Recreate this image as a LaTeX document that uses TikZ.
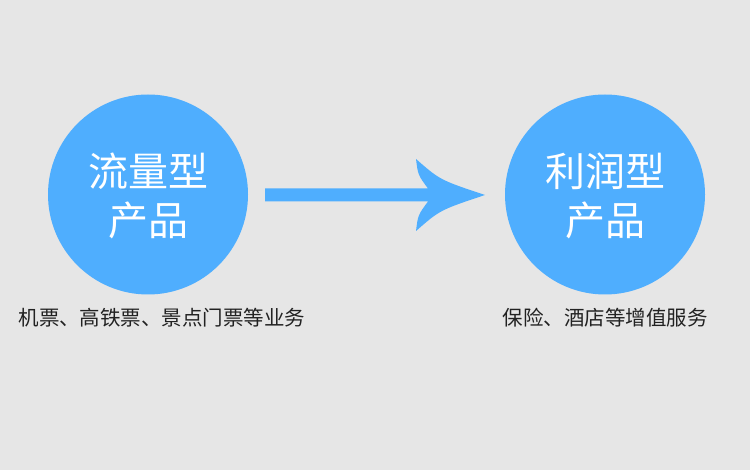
\documentclass[tikz,border=0pt]{standalone}
\usepackage{fontspec}
\newfontfamily\cjk{Noto Sans CJK SC}
\definecolor{bg}{HTML}{E6E6E6}
\definecolor{blu}{HTML}{4FAEFE}
\definecolor{cap}{HTML}{222222}
\begin{document}
\begin{tikzpicture}[x=1pt,y=-1pt,
  disc/.style={circle,fill=blu,draw=none,minimum size=200pt,inner sep=0pt},
  title/.style={anchor=base,text=white,font=\cjk\fontsize{40}{40}\selectfont,inner sep=0pt},
  caption/.style={text=cap,font=\cjk\fontsize{20.5}{20.5}\selectfont,inner sep=0pt}]
\fill[bg] (0,0) rectangle (750,470);
\useasboundingbox (0,0) rectangle (750,470);
\node[disc] (lc) at (148,194.5) {};
\node[disc] (rc) at (605,194.5) {};
\node[title] (l1) at (148,187) {流量型};
\node[title] (l2) at (148,236) {产品};
\node[title] (r1) at (605,187) {利润型};
\node[title] (r2) at (605,236) {产品};
\node[caption] (lcap) at (162,318) {机票、高铁票、景点门票等业务};
\node[caption] (rcap) at (605,318) {保险、酒店等增值服务};
\coordinate (tip) at (485,195);
\fill[blu] (265,188.5) -- (428,188.5) .. controls (418,175) .. (416,159)
  .. controls (440,180) .. (tip) .. controls (440,210) .. (416,231)
  .. controls (418,215) .. (428,201.5) -- (265,201.5) -- cycle;
\end{tikzpicture}
\end{document}
